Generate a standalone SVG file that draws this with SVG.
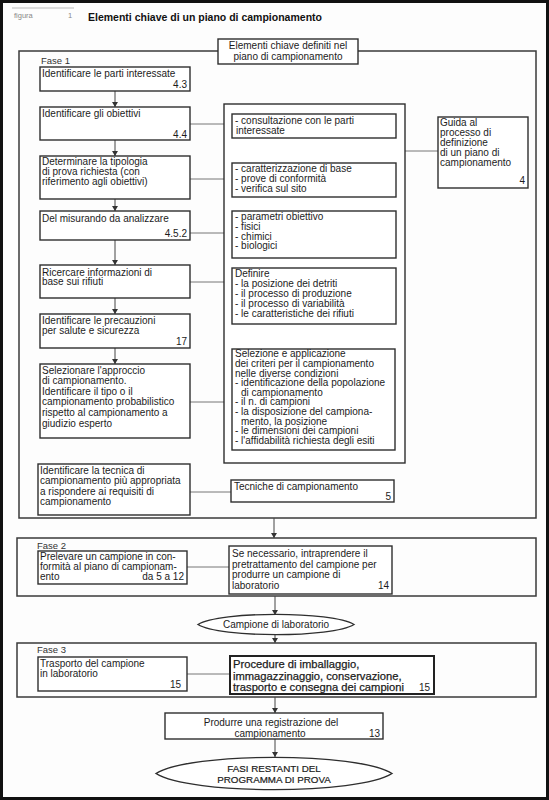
<svg xmlns="http://www.w3.org/2000/svg" width="549" height="800" viewBox="0 0 549 800">
<style>
.bg{fill:#fdfdfd}
.frame{fill:none;stroke:#111;stroke-width:3}
.phase{fill:none;stroke:#3a3a3a;stroke-width:1.5}
.box{fill:#fff;stroke:#2e2e2e;stroke-width:1.4}
.bold{fill:#fff;stroke:#222;stroke-width:2}
.conn{fill:none;stroke:#666;stroke-width:0.9}
.arr{fill:none;stroke:#444;stroke-width:1}
text{font-family:"Liberation Sans",Arial,Helvetica,sans-serif;font-size:10px;fill:#1c1c1c}
.r{text-anchor:end}
.c{text-anchor:middle}
.ph{font-size:9.5px;fill:#333}
.big{font-size:11.2px;stroke:#1c1c1c;stroke-width:0.25}
.caps{font-size:9.8px;stroke:#1c1c1c;stroke-width:0.2}
.title{font-size:10.5px;font-weight:bold;fill:#111}
.small{font-size:7.5px;fill:#888}
</style>
<defs>
<marker id="ah" markerWidth="5" markerHeight="6" refX="5" refY="3" orient="auto" markerUnits="userSpaceOnUse">
<path d="M0,0 L5,3 L0,6 z" fill="#333"/>
</marker>
</defs>
<rect class="bg" x="0" y="0" width="549" height="800"/>
<rect class="frame" x="1.5" y="1.5" width="546" height="797"/>

<g id="header">
<line x1="12" y1="8" x2="74" y2="8" stroke="#aaa" stroke-width="0.8"/>
<text class="small" x="14" y="18">figura</text>
<text class="small" x="68" y="18">1</text>
<text class="title" x="88" y="20.5">Elementi chiave di un piano di campionamento</text>
</g>

<g id="fase1">
<rect class="phase" x="19" y="51" width="517" height="467"/>
<text class="ph" x="41" y="64">Fase 1</text>
</g>
<g id="fase2">
<rect class="phase" x="17" y="538" width="519" height="58"/>
<text class="ph" x="37" y="549">Fase 2</text>
</g>
<g id="fase3">
<rect class="phase" x="17" y="643" width="519" height="54"/>
<text class="ph" x="37" y="653">Fase 3</text>
</g>

<g id="connectors">
<line class="arr" x1="115" y1="91" x2="115" y2="107" marker-end="url(#ah)"/>
<line class="arr" x1="115" y1="140" x2="115" y2="156" marker-end="url(#ah)"/>
<line class="arr" x1="115" y1="199" x2="115" y2="211" marker-end="url(#ah)"/>
<line class="arr" x1="115" y1="240" x2="115" y2="265" marker-end="url(#ah)"/>
<line class="arr" x1="115" y1="298" x2="115" y2="314" marker-end="url(#ah)"/>
<line class="arr" x1="115" y1="348" x2="115" y2="364" marker-end="url(#ah)"/>
<line class="conn" x1="190" y1="124" x2="232" y2="124"/>
<line class="conn" x1="190" y1="179" x2="232" y2="179"/>
<line class="conn" x1="190" y1="233" x2="232" y2="233"/>
<line class="conn" x1="190" y1="282" x2="232" y2="282"/>
<line class="conn" x1="190" y1="402" x2="232" y2="402"/>
<line class="conn" x1="190" y1="492" x2="231" y2="492"/>
<line class="conn" x1="405" y1="151" x2="438" y2="151"/>
<line class="arr" x1="274" y1="518" x2="274" y2="538" marker-end="url(#ah)"/>
<line class="conn" x1="187" y1="567" x2="229" y2="567"/>
<line class="arr" x1="275" y1="596" x2="275" y2="615" marker-end="url(#ah)"/>
<line class="arr" x1="275" y1="634" x2="275" y2="643" marker-end="url(#ah)"/>
<line class="conn" x1="187" y1="674" x2="230" y2="674"/>
<line class="arr" x1="275" y1="697" x2="275" y2="713" marker-end="url(#ah)"/>
<line class="arr" x1="275" y1="739" x2="275" y2="757" marker-end="url(#ah)"/>
</g>

<g id="label-elementi">
<rect class="box" x="218" y="39" width="140" height="25"/>
<text class="c" x="288" y="48.5">Elementi chiave definiti nel</text>
<text class="c" x="288" y="60">piano di campionamento</text>
</g>

<g id="n-parti">
<rect class="box" x="40" y="67" width="150" height="24"/>
<text x="42" y="76.5">Identificare le parti interessate</text>
<text class="r" x="187" y="88">4.3</text>
</g>
<g id="n-obiettivi">
<rect class="box" x="40" y="107" width="150" height="33"/>
<text x="42" y="116.5">Identificare gli obiettivi</text>
<text class="r" x="187" y="137.5">4.4</text>
</g>
<g id="n-tipologia">
<rect class="box" x="40" y="156" width="150" height="43"/>
<text x="42" y="165">Determinare la tipologia</text>
<text x="42" y="175">di prova richiesta (con</text>
<text x="42" y="185">riferimento agli obiettivi)</text>
</g>
<g id="n-misurando">
<rect class="box" x="40" y="211" width="150" height="29"/>
<text x="42" y="221.5">Del misurando da analizzare</text>
<text class="r" x="187" y="237">4.5.2</text>
</g>
<g id="n-ricercare">
<rect class="box" x="40" y="265" width="150" height="33"/>
<text x="42" y="275.5">Ricercare informazioni di</text>
<text x="42" y="285">base sui rifiuti</text>
</g>
<g id="n-precauzioni">
<rect class="box" x="40" y="314" width="150" height="34"/>
<text x="42" y="324">Identificare le precauzioni</text>
<text x="42" y="334.2">per salute e sicurezza</text>
<text class="r" x="187" y="345">17</text>
</g>
<g id="n-approccio">
<rect class="box" x="40" y="364" width="150" height="74"/>
<text x="42" y="373.5">Selezionare l'approccio</text>
<text x="42" y="384.1">di campionamento.</text>
<text x="42" y="394.7">Identificare il tipo o il</text>
<text x="42" y="405.3">campionamento probabilistico</text>
<text x="42" y="415.9">rispetto al campionamento a</text>
<text x="42" y="426.5">giudizio esperto</text>
</g>
<g id="n-tecnica">
<rect class="box" x="38" y="464" width="152" height="51"/>
<text x="40" y="473.5">Identificare la tecnica di</text>
<text x="40" y="484">campionamento più appropriata</text>
<text x="40" y="494.5">a rispondere ai requisiti di</text>
<text x="40" y="505">campionamento</text>
</g>

<g id="n-elementi-group">
<rect class="box" x="224" y="104" width="181" height="359"/>
</g>
<g id="n-consultazione">
<rect class="box" x="232" y="114" width="164" height="24"/>
<text x="235" y="123.5">- consultazione con le parti</text>
<text x="236" y="133.5">interessate</text>
</g>
<g id="n-caratterizzazione">
<rect class="box" x="232" y="163" width="164" height="34"/>
<text x="235" y="172">- caratterizzazione di base</text>
<text x="235" y="182">- prove di conformità</text>
<text x="235" y="192">- verifica sul sito</text>
</g>
<g id="n-parametri">
<rect class="box" x="232" y="211" width="164" height="47"/>
<text x="235" y="220">- parametri obiettivo</text>
<text x="235" y="229.8">- fisici</text>
<text x="235" y="239.6">- chimici</text>
<text x="235" y="249.4">- biologici</text>
</g>
<g id="n-definire">
<rect class="box" x="232" y="268" width="164" height="56"/>
<text x="235" y="277">Definire</text>
<text x="235" y="286.9">- la posizione dei detriti</text>
<text x="235" y="296.8">- il processo di produzione</text>
<text x="235" y="306.7">- il processo di variabilità</text>
<text x="235" y="316.6">- le caratteristiche dei rifiuti</text>
</g>
<g id="n-selezione">
<rect class="box" x="232" y="349" width="163" height="101"/>
<text x="235" y="357.3">Selezione e applicazione</text>
<text x="235" y="366.9">dei criteri per il campionamento</text>
<text x="235" y="376.5">nelle diverse condizioni</text>
<text x="235" y="386.1">- identificazione della popolazione</text>
<text x="241" y="395.7">di campionamento</text>
<text x="235" y="405.3">- il n. di campioni</text>
<text x="235" y="414.9">- la disposizione del campiona-</text>
<text x="241" y="424.5">mento, la posizione</text>
<text x="235" y="434.1">- le dimensioni dei campioni</text>
<text x="235" y="443.7">- l'affidabilità richiesta degli esiti</text>
</g>
<g id="n-tecniche">
<rect class="box" x="231" y="480" width="163" height="22"/>
<text x="234" y="489.5">Tecniche di campionamento</text>
<text class="r" x="391" y="500">5</text>
</g>
<g id="n-guida">
<rect class="box" x="438" y="117" width="90" height="71"/>
<text x="440" y="126">Guida al</text>
<text x="440" y="136">processo di</text>
<text x="440" y="146">definizione</text>
<text x="440" y="156">di un piano di</text>
<text x="440" y="166">campionamento</text>
<text class="r" x="525" y="184">4</text>
</g>

<g id="n-prelevare">
<rect class="box" x="38" y="551" width="149" height="33"/>
<text x="40" y="559.5">Prelevare un campione in con-</text>
<text x="40" y="569.5">formità al piano di campionam-</text>
<text x="40" y="580">ento</text>
<text class="r" x="184" y="580">da 5 a 12</text>
</g>
<g id="n-pretrattamento">
<rect class="box" x="229" y="546" width="163" height="48"/>
<text x="232" y="557">Se necessario, intraprendere il</text>
<text x="232" y="567.5">pretrattamento del campione per</text>
<text x="232" y="578">produrre un campione di</text>
<text x="232" y="589">laboratorio</text>
<text class="r" x="389" y="589">14</text>
</g>
<g id="n-campione-lab">
<path class="box" d="M198,624.5 C220,611 332,611 354,624.5 C332,638 220,638 198,624.5 Z"/>
<text class="c" x="276" y="628">Campione di laboratorio</text>
</g>
<g id="n-trasporto">
<rect class="box" x="38" y="657" width="149" height="34"/>
<text x="40" y="666.5">Trasporto del campione</text>
<text x="40" y="676.5">in laboratorio</text>
<text class="r" x="181" y="688">15</text>
</g>
<g id="n-procedure">
<rect class="bold" x="230" y="656" width="204" height="38"/>
<text class="big" x="233" y="668">Procedure di imballaggio,</text>
<text class="big" x="233" y="679.5">immagazzinaggio, conservazione,</text>
<text class="big" x="233" y="691">trasporto e consegna dei campioni</text>
<text class="r" x="430" y="691">15</text>
</g>
<g id="n-registrazione">
<rect class="box" x="165" y="713" width="218" height="26"/>
<text class="c" x="271" y="725.5">Produrre una registrazione del</text>
<text class="c" x="270" y="736.5">campionamento</text>
<text class="r" x="380" y="736.5">13</text>
</g>
<g id="n-fasi-restanti">
<path class="box" d="M156,773.5 C190,752 358,752 392,773.5 C358,795 190,795 156,773.5 Z"/>
<text class="c caps" x="274" y="771.5">FASI RESTANTI DEL</text>
<text class="c caps" x="274" y="782.5">PROGRAMMA DI PROVA</text>
</g>
</svg>
